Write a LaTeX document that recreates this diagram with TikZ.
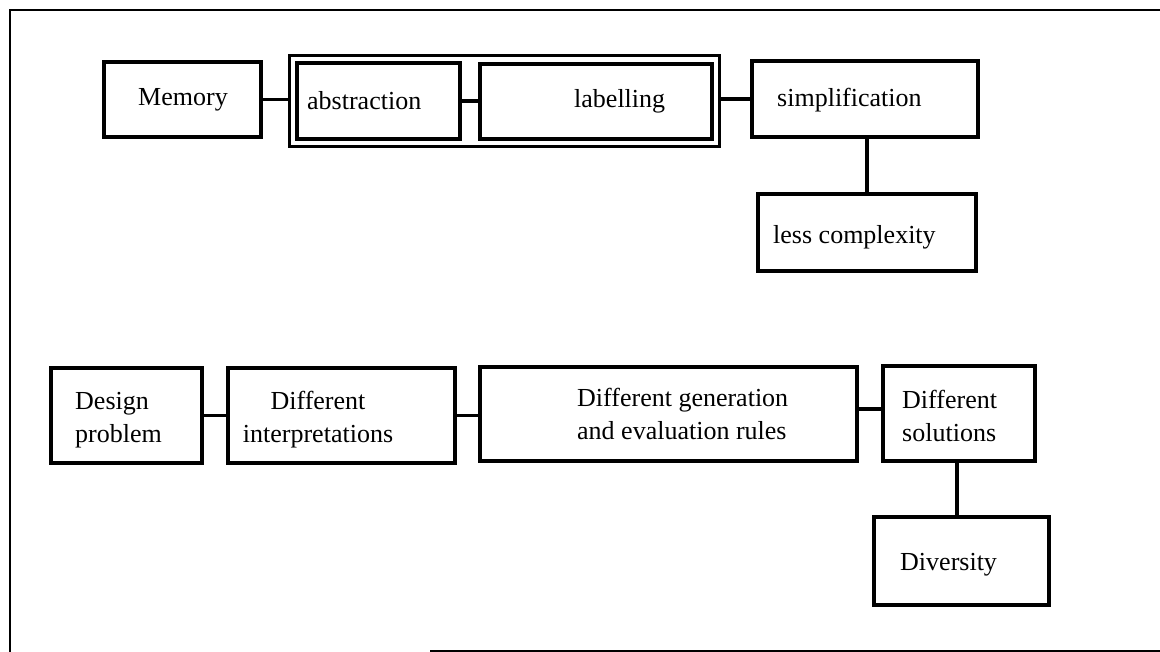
\documentclass[tikz,border=0pt]{standalone}
\usepackage{fontspec}
\setmainfont{Liberation Serif}
\usetikzlibrary{fit,calc}
\begin{document}
\begin{tikzpicture}[x=1pt,y=-1pt,
  box/.style={draw, line width=3.1pt, inner sep=0pt},
  lbl/.style={inner sep=0pt, align=left, font=\fontsize{26}{33}\selectfont},
  link/.style={line width=3.1pt},
  frame/.style={line width=2.8pt}]
\useasboundingbox (0,0) rectangle (1160,652);

% outer frame
\draw[frame] (1160,10) -- (10,10) -- (10,652);
\draw[frame] (430,651) -- (1160,651);

% upper chain
\node[box, minimum width=157pt, minimum height=75pt] (mem) at (182.5,99.5) {};
\node[lbl] (memT) at (183,100) {Memory};

\node[box, minimum width=163pt, minimum height=76pt] (abs) at (378.5,101) {};
\node[lbl, anchor=west] (absT) at (307,101) {abstraction};

\node[box, minimum width=232pt, minimum height=75pt] (lab) at (596,101.5) {};
\node[lbl, anchor=west] (labT) at (574,101) {labelling};

\node[box, fit=(abs)(lab), inner xsep=6pt, inner ysep=6pt] (grp) {};

\node[box, minimum width=226pt, minimum height=76pt] (simp) at (865,99) {};
\node[lbl, anchor=west] (simpT) at (777,100) {simplification};

\node[box, minimum width=218pt, minimum height=77pt] (less) at (867,232.5) {};
\node[lbl, anchor=west] (lessT) at (773,237) {less complexity};

\draw[link] (mem.east) -- (mem.east -| grp.west);
\draw[link] (abs.east) -- (abs.east -| lab.west);
\draw[link] (simp.west) -- (simp.west -| grp.east);
\draw[link] (less.north) -- (less.north |- simp.south);

% lower chain
\node[box, minimum width=151pt, minimum height=95pt] (dp) at (126.5,415.5) {};
\node[lbl, anchor=west] (dpT) at (75,420) {Design\\problem};

\node[box, minimum width=227pt, minimum height=95pt] (di) at (341.5,415.5) {};
\node[lbl, align=center] (diT) at (318,420) {Different\\interpretations};

\node[box, minimum width=377pt, minimum height=94pt] (dg) at (668.5,414) {};
\node[lbl, anchor=west] (dgT) at (577,414) {Different generation\\and evaluation rules};

\node[box, minimum width=152pt, minimum height=95pt] (ds) at (959,413.5) {};
\node[lbl, anchor=west] (dsT) at (902,416) {Different\\solutions};

\node[box, minimum width=175pt, minimum height=88pt] (div) at (961.5,561) {};
\node[lbl, anchor=west] (divT) at (900,565) {Diversity};

\draw[link] (dp.east) -- (dp.east -| di.west);
\draw[link] (di.east) -- (di.east -| dg.west);
\draw[link] ([yshift=5pt]dg.east) -- ([yshift=5pt]dg.east -| ds.west);
\draw[link] ([xshift=-2pt]ds.south) -- ([xshift=-2pt]ds.south |- div.north);
\end{tikzpicture}
\end{document}
